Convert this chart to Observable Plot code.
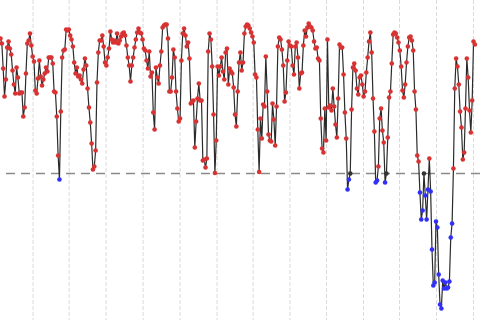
<!DOCTYPE html>
<html><head><meta charset="utf-8">
<script src="https://cdn.jsdelivr.net/npm/d3@7"></script>
<script src="https://cdn.jsdelivr.net/npm/@observablehq/plot@0.6"></script>
<style>body{margin:0;background:#fff}#chart svg{display:block}</style>
</head><body><div id="chart"></div>
<script>
// depth readings (larger = lower on the chart), one per step
const depth = [
 38,43,68,96,79,47,41,48,54,70,84,93,67,77,93,92,92,116,107,73,43,40,33,45,56,
 61,90,93,78,60,76,85,79,73,67,71,57,57,57,63,91,92,116,155,179,111,57,50,49,29,30,29,
 35,39,46,62,73,67,76,75,79,83,69,58,65,88,107,122,143,169,166,150,82,52,40,40,35,46,62,65,57,48,31,39,42,40,42,
 33,43,40,36,33,32,35,45,57,65,81,65,57,47,39,32,28,32,33,39,48,50,60,68,51,76,72,112,129,
 67,77,83,65,51,27,25,24,24,38,91,91,77,49,57,91,108,121,118,60,33,28,35,46,42,58,103,101,100,147,121,98,83,100,100,160,159,167,158,51,33,39,66,114,172.5,140,66,75,66,57,71,79,52,48,84,68,71,73,87,114,126,
 91,62,52,70,62,33,26,24,25,28,32,36,42,74,77,129,171.5,118,138,104,106,56,91,134,140,141,103,119,145,106,46,37,39,49,65,101,92,60,41,45,46,65,74,46,42,57,88,73,72,45,30,36,27,23,26,27,30,41,48,47,58,60,
 118,148,152,108,140,39,107,105,110,88,106,124,137,98,44,47,47,74,112,138,189,179,173,109,67,63,70,88,94,77,75,
 84,96,91,72,57,41,32,52,98,131,182,180,166,118,108,130,142,182,173,137,97,91,63,34,32,33,37,42,50,66,90,97,84,62,46,37,36,40,50,91,109,155,161,192,219,210,173,195,219,189,158,191,249,285,282,221,227,274,304,308,280,288,282,288,287,281,237,223,168,88,58,66,84,111,127,159,152,108,58,77,110,132,100,41,44
];
const threshold = 173;
const gridX = [24.3, 51.2, 78.8, 106.4, 134, 161.6, 188.5, 216, 243.3, 270.9, 297.8, 325.4, 353];
const sideNames = ["above", "at", "below"];
const sideColors = ["#d83232", "#333333", "#3030f8"];

const data = depth.map((v, i) => ({i, v, side: v < threshold ? "above" : v > threshold ? "below" : "at"}));

const chart = Plot.plot({
  width: 480, height: 320, margin: 0,
  x: {domain: [0, 358.2], axis: null},
  y: {domain: [0, 320], reverse: true, axis: null},
  color: {domain: sideNames, range: sideColors},
  marks: [
    Plot.ruleX(gridX, {stroke: "#dadada", strokeWidth: 1, strokeDasharray: "4,2"}),
    Plot.ruleY([threshold], {stroke: "#8a8a8a", strokeWidth: 1.6, strokeDasharray: "9,6", strokeDashoffset: 9}),
    Plot.line(data, {x: "i", y: "v", stroke: "#2b2b2b", strokeWidth: 1.2}),
    Plot.dot(data, {x: "i", y: "v", r: 2.3, fill: "side", stroke: null})
  ]
});
document.getElementById("chart").append(chart);
</script>
</body></html>
